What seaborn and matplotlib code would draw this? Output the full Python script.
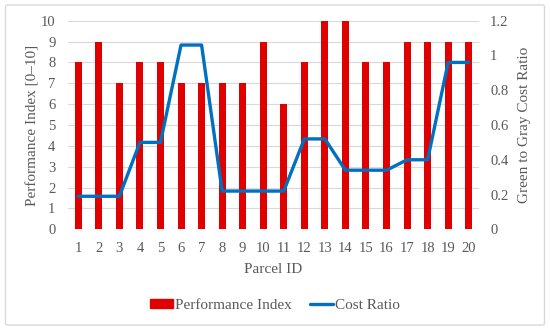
import seaborn as sns
import matplotlib.pyplot as plt
import matplotlib.patches as mpatches
import matplotlib.lines as mlines
import pandas as pd

sns.set_theme(style="white")
plt.rcParams['font.family'] = ['Liberation Serif', 'DejaVu Serif']

parcels = [str(i) for i in range(1, 21)]
performance = [8, 9, 7, 8, 8, 7, 7, 7, 7, 9, 6, 8, 10, 10, 8, 8, 9, 9, 9, 9]
cost_ratio = [0.19, 0.19, 0.19, 0.50, 0.50, 1.06, 1.06, 0.22, 0.22, 0.22,
              0.22, 0.52, 0.52, 0.34, 0.34, 0.34, 0.40, 0.40, 0.96, 0.96]

df = pd.DataFrame({'parcel': parcels, 'perf': performance, 'ratio': cost_ratio})

grey = '#595959'
red = '#e00000'
blue = '#0070c0'

fig = plt.figure(figsize=(5.5, 3.3), dpi=100)
ax = fig.add_axes([68 / 550, 1 - 229.3 / 330, 411 / 550, 208.6 / 330])

sns.barplot(data=df, x='parcel', y='perf', color=red, width=0.34,
            saturation=1, linewidth=0, ax=ax, zorder=3)
ax.set_ylim(0, 10)
ax.set_yticks(range(0, 11))
ax.set_xlim(-0.5, 19.5)
ax.grid(axis='y', color='#d9d9d9', linewidth=0.8)
ax.set_axisbelow(True)
ax.set_ylabel('Performance Index [0–10]', color=grey, fontsize=11, labelpad=1)
ax.set_xlabel('Parcel ID', color=grey, fontsize=11, labelpad=6)

ax2 = ax.twinx()
sns.lineplot(data=df, x='parcel', y='ratio', sort=False, color=blue,
             linewidth=2.4, ax=ax2)
ax2.set_ylim(0, 1.2)
ax2.set_yticks([0, 0.2, 0.4, 0.6, 0.8, 1.0, 1.2])
ax2.set_yticklabels(['0', '0.2', '0.4', '0.6', '0.8', '1', '1.2'])
ax2.set_ylabel('Green to Gray Cost Ratio', color=grey, fontsize=11, labelpad=7)
ax2.set_xlim(-0.5, 19.5)

for a in (ax, ax2):
    for s in a.spines.values():
        s.set_visible(False)
    a.tick_params(axis='both', colors=grey, labelsize=10.5, length=0)
ax.tick_params(axis='y', pad=9)
ax.tick_params(axis='x', pad=9)
ax2.tick_params(axis='y', pad=8)

handles = [mpatches.Patch(color=red, label='Performance Index'),
           mlines.Line2D([], [], color=blue, linewidth=2.4, label='Cost Ratio')]
leg = fig.legend(handles=handles, loc='center', bbox_to_anchor=(0.5, 0.075),
                 ncol=2, frameon=False, fontsize=11, handlelength=1.5,
                 handleheight=0.6, handletextpad=0.15, columnspacing=1.2)
for t in leg.get_texts():
    t.set_color(grey)

fig.patches.append(mpatches.FancyBboxPatch((0.01, 0.015), 0.98, 0.97,
                                           boxstyle='round,pad=0,rounding_size=0.005',
                                           transform=fig.transFigure, fill=False,
                                           edgecolor='#d9d9d9', linewidth=1))

fig.savefig('out.png', dpi=100)
